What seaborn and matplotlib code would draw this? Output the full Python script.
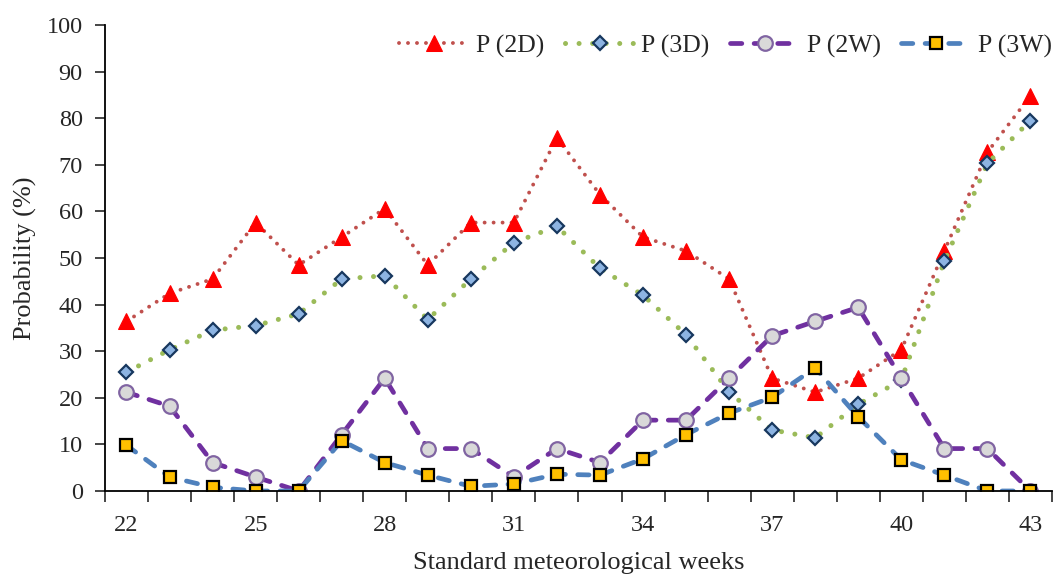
import matplotlib.pyplot as plt
import seaborn as sns
import pandas as pd
from matplotlib.ticker import FixedLocator

# Data
weeks = list(range(22, 44))
p_2d = [36.4, 42.4, 45.5, 57.6, 48.5, 54.5, 60.6, 48.5, 57.6, 57.6, 75.8,
        63.6, 54.5, 51.5, 45.5, 24.2, 21.2, 24.2, 30.3, 51.5, 72.7, 84.8]
p_3d = [25.5, 30.3, 34.5, 35.5, 38.0, 45.5, 46.2, 36.8, 45.5, 53.3, 56.8,
        47.8, 42.0, 33.5, 21.3, 13.1, 11.4, 18.6, 23.8, 49.3, 70.3, 79.5]
p_2w = [21.2, 18.2, 6.1, 3.0, 0.0, 12.1, 24.2, 9.1, 9.1, 3.0, 9.1,
        6.1, 15.2, 15.2, 24.2, 33.3, 36.4, 39.4, 24.2, 9.1, 9.1, 0.0]
p_3w = [9.8, 3.0, 0.8, 0.0, 0.0, 10.8, 6.1, 3.4, 1.0, 1.5, 3.6,
        3.4, 6.9, 12.1, 16.7, 20.1, 26.4, 15.9, 6.7, 3.4, 0.0, 0.0]
week_labels = [22, 25, 28, 31, 34, 37, 40, 43]

if __name__ == "__main__":
    sns.set_style("ticks")
    plt.rcParams['font.family'] = ['Liberation Serif', 'DejaVu Serif']
    FS = 17.5

    df = pd.DataFrame({"week": weeks, "P (2D)": p_2d, "P (3D)": p_3d,
                       "P (2W)": p_2w, "P (3W)": p_3w})

    fig = plt.figure(figsize=(10.55, 5.76), dpi=100)
    ax = fig.add_axes([0.0995, 0.1476, 0.8976, 0.809])

    # round caps: dash lengths are in linewidth units
    styles = {
        "P (2D)": dict(color="#C0504D", linestyle=(0, (0.01, 2.3)), marker="^",
                       markerfacecolor="#FF0000", markeredgecolor="#FF0000",
                       markersize=11, linewidth=2.8),
        "P (3D)": dict(color="#9BBB59", linestyle=(0, (0.01, 2.7)), marker="D",
                       markerfacecolor="#8DB4E2", markeredgecolor="#17375E",
                       markersize=7.5, markeredgewidth=1.6, linewidth=3.6),
        "P (2W)": dict(color="#7030A0", linestyle=(0, (2.4, 2.6)), marker="o",
                       markerfacecolor="#D9D9D9", markeredgecolor="#8064A2",
                       markersize=10.5, markeredgewidth=1.6, linewidth=3.4),
        "P (3W)": dict(color="#4F81BD", linestyle=(0, (2.4, 2.6)), marker="s",
                       markerfacecolor="#FFC000", markeredgecolor="#000000",
                       markersize=8, markeredgewidth=1.6, linewidth=3.4),
    }

    for name, st in styles.items():
        sns.lineplot(data=df, x="week", y=name, ax=ax, label=name, **st)
    for line in ax.lines:
        line.set_dash_capstyle("round")

    ax.set_xlim(21.5, 43.5)
    ax.set_ylim(0, 100)
    ax.set_yticks(range(0, 101, 10))
    ax.set_xticks(week_labels)
    ax.xaxis.set_minor_locator(FixedLocator([w - 0.5 for w in weeks] + [43.5]))
    ax.tick_params(axis="x", which="major", length=0, pad=17, labelsize=FS)
    ax.tick_params(axis="x", which="minor", length=8, width=1.2, direction="out")
    ax.tick_params(axis="y", length=7, width=1.2, direction="out", pad=9,
                   labelsize=FS)

    sns.despine(ax=ax)
    for sp in ("left", "bottom"):
        ax.spines[sp].set_linewidth(1.3)
        ax.spines[sp].set_color("black")

    ax.set_xlabel("Standard meteorological weeks", fontsize=19, labelpad=12)
    ax.set_ylabel("Probability (%)", fontsize=19, labelpad=7)

    leg = ax.legend(loc="center right", ncol=4, frameon=False, fontsize=18.5,
                    bbox_to_anchor=(1.0, 0.955), handlelength=2.7,
                    columnspacing=0.8, handletextpad=0.28, borderaxespad=0,
                    borderpad=0)
    for line in leg.get_lines():
        line.set_dash_capstyle("round")

    fig.savefig("out.png", dpi=100)
